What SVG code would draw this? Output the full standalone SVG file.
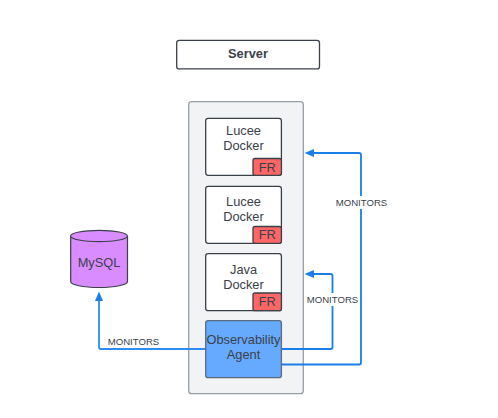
<svg xmlns="http://www.w3.org/2000/svg" width="498" height="418" viewBox="0 0 498 418">
<defs>
<style>
text{font-family:"Liberation Sans",Arial,sans-serif;fill:#3a414a;text-anchor:middle}
.t{font-size:12.8px}
.l{font-size:9.6px}
.box{fill:#fff;stroke:#3a414a;stroke-width:1.3}
.fr{fill:#ff6666;stroke:#3a414a;stroke-width:1.3}
.c{fill:none;stroke:#1a7de8;stroke-width:1.8}
.lb{fill:#fff}
.h{fill:#1a7de8}
</style>
</defs>
<rect width="498" height="418" fill="#fff"/>
<g id="server"><rect class="box" x="176.700" y="40.300" width="142.800" height="28.600" rx="2.500"/><text x="248" y="58" style="font-size:12.800px;font-weight:bold">Server</text></g>
<g id="container"><rect x="188.700" y="101.700" width="114.600" height="292" rx="3" fill="#f2f3f5" stroke="#979ea8" stroke-width="1.300"/></g>
<g id="connectors">
<path class="c" d="M205.500 349H101Q99 349 99 347V298" style="stroke:#2f8cf0"/><path class="h" d="M99 291.500L103 301H95Z"/>
<path class="c" d="M281.500 349H330.500Q332.500 349 332.500 347V276Q332.500 274 330.500 274H313"/><path class="h" d="M304.500 274L314 270V278Z"/>
<path class="c" d="M281.500 364.500H359Q361 364.500 361 362.500V155Q361 153 359 153H313"/><path class="h" d="M304.500 153L314 149V157Z"/>
<rect class="lb" x="335" y="196" width="53" height="13"/>
<text class="l" x="361.500" y="206">MONITORS</text>
<rect class="lb" x="305" y="293" width="55" height="13"/>
<text class="l" x="332.500" y="303">MONITORS</text>
<text class="l" x="133.500" y="345">MONITORS</text>
</g>
<g id="lucee1"><rect class="box" x="205.700" y="118.300" width="75.700" height="57" rx="2.500"/><text class="t" x="243.500" y="135">Lucee</text><text class="t" x="243.500" y="150">Docker</text><rect class="fr" x="253" y="158.500" width="28.400" height="16.800" rx="2"/><text class="t" x="267.200" y="172">FR</text></g>
<g id="lucee2"><rect class="box" x="205.700" y="186.300" width="75.700" height="57" rx="2.500"/><text class="t" x="243.500" y="206">Lucee</text><text class="t" x="243.500" y="221">Docker</text><rect class="fr" x="253" y="226.500" width="28.400" height="16.800" rx="2"/><text class="t" x="267.200" y="239">FR</text></g>
<g id="java"><rect class="box" x="205.700" y="253.700" width="75.700" height="57" rx="2.500"/><text class="t" x="243.500" y="274">Java</text><text class="t" x="243.500" y="289">Docker</text><rect class="fr" x="253" y="293" width="28.400" height="17.700" rx="2"/><text class="t" x="267.200" y="306">FR</text></g>
<g id="agent"><rect x="205.700" y="320.700" width="75.700" height="57" rx="2.500" fill="#66aaff" stroke="#5a6b80" stroke-width="1.300"/><text class="t" x="243.500" y="344">Observability</text><text class="t" x="243.500" y="359">Agent</text></g>
<g id="mysql"><path d="M70.700 236V281.500C70.700 284.800 83 287.500 99 287.500S127.500 284.800 127.500 281.500V236" fill="#d98cff" stroke="#3a414a" stroke-width="1.200"/><ellipse cx="99" cy="236" rx="28.400" ry="5.700" fill="#d98cff" stroke="#3a414a" stroke-width="1.200"/><text class="t" x="99" y="267">MySQL</text></g>
</svg>
